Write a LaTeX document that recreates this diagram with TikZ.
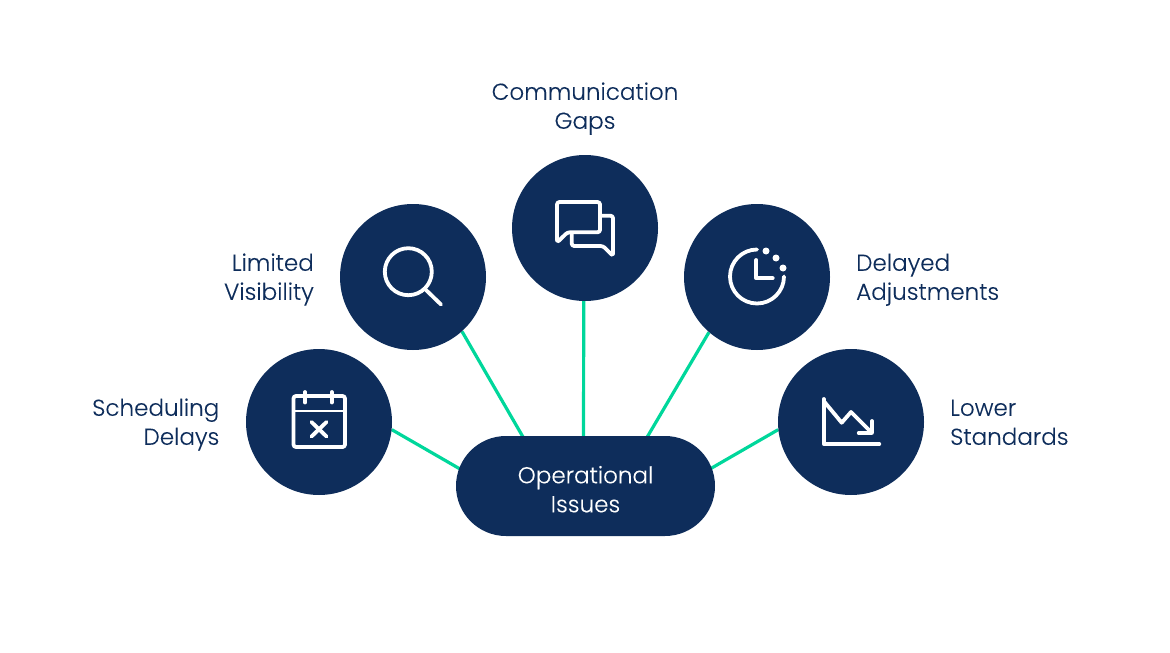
\documentclass[tikz,border=0pt]{standalone}
\usepackage{fontspec}
\setmainfont{Poppins Light}[FakeBold=0.12]
\usetikzlibrary{backgrounds}
\definecolor{navy}{HTML}{0E2D5B}
\definecolor{mint}{HTML}{00D79B}
\tikzset{
  disc/.style={circle,fill=navy,minimum size=146pt,inner sep=0pt},
  pillbox/.style={rectangle,rounded corners=50pt,fill=navy,minimum width=259pt,minimum height=100pt,inner sep=0pt},
  label/.style={text=navy,font=\lab,inner sep=0pt},
  pilllabel/.style={text=white,font=\lab,inner sep=0pt,align=center},
  link/.style={draw=mint,line width=3.2pt},
  icon/.style={draw=white,line width=3.8pt,line cap=round,line join=round},
  thin icon/.style={draw=white,line width=2.2pt},
}
\newcommand{\lab}{\fontsize{23.05}{29}\selectfont}
\begin{document}
\begin{tikzpicture}[x=1pt,y=-1pt]
\useasboundingbox (0,0) rectangle (1170,653);
\node[disc] (c1) at (319,422) {};
\node[disc] (c2) at (413,277) {};
\node[disc] (c3) at (585,228) {};
\node[disc] (c4) at (757,277) {};
\node[disc] (c5) at (851,422) {};
\node[pillbox] (pill) at (585.5,486) {};
\node[pilllabel] (pilltext) at (585.5,492) {\strut Operational\\\strut Issues};
\coordinate (e1) at (480,480.5);
\coordinate (e2) at (534,456);
\coordinate (e3) at (583.5,456);
\coordinate (e4) at (636,456);
\coordinate (e5) at (690,480.5);
\begin{scope}[on background layer]
\draw[link] (c1.-6.3) -- (e1);
\draw[link] (c2.-48.4) -- (e2);
\draw[link] (c3.-91.2) -- (e3);
\draw[link] (c4.-131.6) -- (e4);
\draw[link] (c5.186.3) -- (e5);
\end{scope}
\node[label,align=right,anchor=east] (t1) at (219.5,424.5) {\strut Scheduling\\\strut Delays};
\node[label,align=right,anchor=east] (t2) at (314,279.5) {\strut Limited\\\strut Visibility};
\node[label,align=center] (t3) at (585,108.5) {\strut Communication\\\strut Gaps};
\node[label,align=left,anchor=west] (t4) at (856,279.5) {\strut Delayed\\\strut Adjustments};
\node[label,align=left,anchor=west] (t5) at (950,424.5) {\strut Lower\\\strut Standards};
% calendar
\draw[icon,rounded corners=2.5pt] (293.5,396) rectangle (345,447);
\draw[thin icon] (293.5,410.7) -- (345,410.7);
\draw[icon] (305,392) -- (305,402.5) (331.7,392) -- (331.7,402.5);
\draw[icon] (311.5,422) -- (326.5,436.5) (326.5,422) -- (311.5,436.5);
% magnifier
\draw[icon] (408.3,271.7) circle (23.5);
\draw[icon] (426,290) -- (441,304.5);
% chat
\draw[icon,rounded corners=2.5pt] (557,242.5) -- (557,202) -- (600,202) -- (600,232.3) -- (567.5,232.3) -- cycle;
\draw[icon,rounded corners=2.5pt] (600,215.7) -- (613,215.7) -- (613,256) -- (603,246) -- (571.7,246) -- (571.7,233);
% clock
\draw[icon] (757,249.5) arc[start angle=-90,end angle=-360,radius=27];
\draw[icon] (756.3,260) -- (756.3,278.3) -- (772.7,278.3);
\fill[white] (766,251) circle (3.5) (776,258) circle (3.5) (783,268) circle (3.5);
% chart
\draw[icon] (823.7,399) -- (823.7,444) -- (879.3,444);
\draw[icon] (823.7,401) -- (841.7,422.7) -- (851,412) -- (872,433);
\draw[icon] (858.7,433) -- (872,433) -- (872,421);
\end{tikzpicture}
\end{document}
